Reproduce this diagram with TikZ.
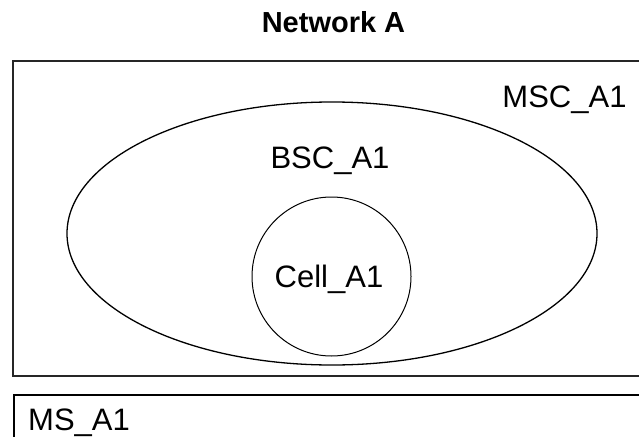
\documentclass[tikz,border=0pt]{standalone}
\usepackage{fontspec}
\setmainfont{Liberation Sans}
\usetikzlibrary{shapes.geometric}
\tikzset{
  lbl/.style={inner sep=0pt, font=\fontsize{31}{36}\selectfont, anchor=base},
}
\begin{document}
\begin{tikzpicture}[x=1pt,y=-1pt]
\useasboundingbox (0,0) rectangle (639,436);
\clip (0,0) rectangle (639,436);
\fill[white] (0,0) rectangle (639,436);
% title
\node[inner sep=0pt, font=\fontsize{29}{33}\selectfont\bfseries, anchor=base] (title) at (333.5,33) {Network A};
% MSC area
\node[draw=black!85, line width=1.6pt, inner sep=0pt, minimum width=640pt, minimum height=315pt, anchor=north west] (msc) at (12,60) {};
\node[lbl] (msclbl) at (564.5,107) {MSC\_A1};
% BSC ellipse
\node[draw, ellipse, line width=1.3pt, inner sep=0pt, minimum width=530pt, minimum height=263pt] (bsc) at (332,233.5) {};
\node[lbl] (bsclbl) at (330,168) {BSC\_A1};
% Cell circle
\node[draw, circle, line width=1pt, inner sep=0pt, minimum size=159pt] (cell) at (331.5,276.5) {};
\node[lbl] (celllbl) at (329,287) {Cell\_A1};
% MS box
\node[draw, line width=2.4pt, inner sep=0pt, minimum width=640pt, minimum height=60pt, anchor=north west] (ms) at (13,394) {};
\node[lbl, anchor=base west] (mslbl) at (28,430) {MS\_A1};
\end{tikzpicture}
\end{document}
